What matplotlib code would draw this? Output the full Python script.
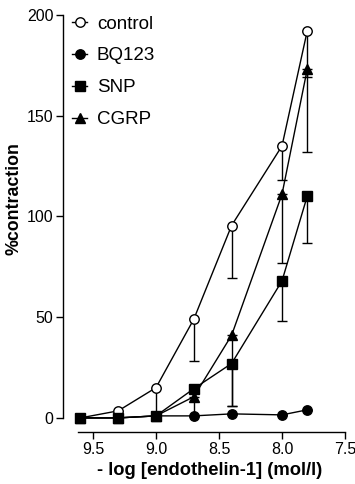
import matplotlib
matplotlib.use("Agg")
import matplotlib.pyplot as plt
import numpy as np

plt.rcParams['font.family'] = ['Liberation Sans', 'DejaVu Sans']

# dose (-log M) and responses
dose = [9.6, 9.3, 9.0, 8.7, 8.4, 8.0, 7.8]

control = [0, 3.5, 15, 49, 95.5, 135, 192]
control_err = [0, 0, 14, 21, 26, 17, 23]

bq123 = [0, 0, 1, 1, 2, 1.5, 4]
bq123_err = [0, 0, 0, 0, 0, 0, 0]

snp = [0, 0, 1, 14.5, 27, 68, 110]
snp_err = [0, 0, 0, 0, 21, 20, 23]

cgrp = [0, 0, 1, 10.5, 41, 111, 173]
cgrp_err = [0, 0, 0, 9, 35, 34, 41]

series = [
    ("control", control, control_err, "o", "white"),
    ("BQ123", bq123, bq123_err, "o", "black"),
    ("SNP", snp, snp_err, "s", "black"),
    ("CGRP", cgrp, cgrp_err, "^", "black"),
]

fig = plt.figure(figsize=(3.55, 4.84), dpi=100)
ax = fig.add_axes([63/355, 1 - 432/484, 282/355, 417/484])

for name, y, err, mk, fc in series:
    y = np.array(y, dtype=float)
    lo = np.array(err, dtype=float)
    ax.errorbar(dose, y, yerr=[lo, np.zeros_like(lo)], fmt="none",
                ecolor="black", elinewidth=1.0, capsize=3.6, capthick=1.0, zorder=2)
    ax.plot(dose, y, color="black", lw=1.0, marker=mk, markersize=6.8 if mk != "^" else 7.5,
            markerfacecolor=fc, markeredgecolor="black", markeredgewidth=1.0,
            label=name, zorder=3)

ax.set_xlim(9.738, 7.5)
ax.set_ylim(-7, 200)
ax.spines['top'].set_visible(False)
ax.spines['right'].set_visible(False)
ax.spines['left'].set_bounds(0, 200)
ax.spines['bottom'].set_bounds(9.62, 7.5)
for s in ('left', 'bottom'):
    ax.spines[s].set_linewidth(1.0)

ax.set_xticks([9.5, 9.0, 8.5, 8.0, 7.5])
ax.set_xticklabels(["9.5", "9.0", "8.5", "8.0", "7.5"])
ax.set_yticks([0, 50, 100, 150, 200])
ax.tick_params(direction="out", length=5, width=1.0, labelsize=11.5, pad=2)

ax.set_xlabel("- log [endothelin-1] (mol/l)", fontsize=13.2, fontweight="bold")
ax.set_ylabel("%contraction", fontsize=12.8, fontweight="bold")
ax.xaxis.set_label_coords(0.521, -0.072)
ax.yaxis.set_label_coords(-0.142, 0.561)

ax.legend(loc="upper left", bbox_to_anchor=(0.007, 1.017), frameon=False,
          fontsize=13.5, handlelength=0.8, handletextpad=0.5, labelspacing=0.79,
          borderaxespad=0)

fig.savefig("out.png", dpi=100)
